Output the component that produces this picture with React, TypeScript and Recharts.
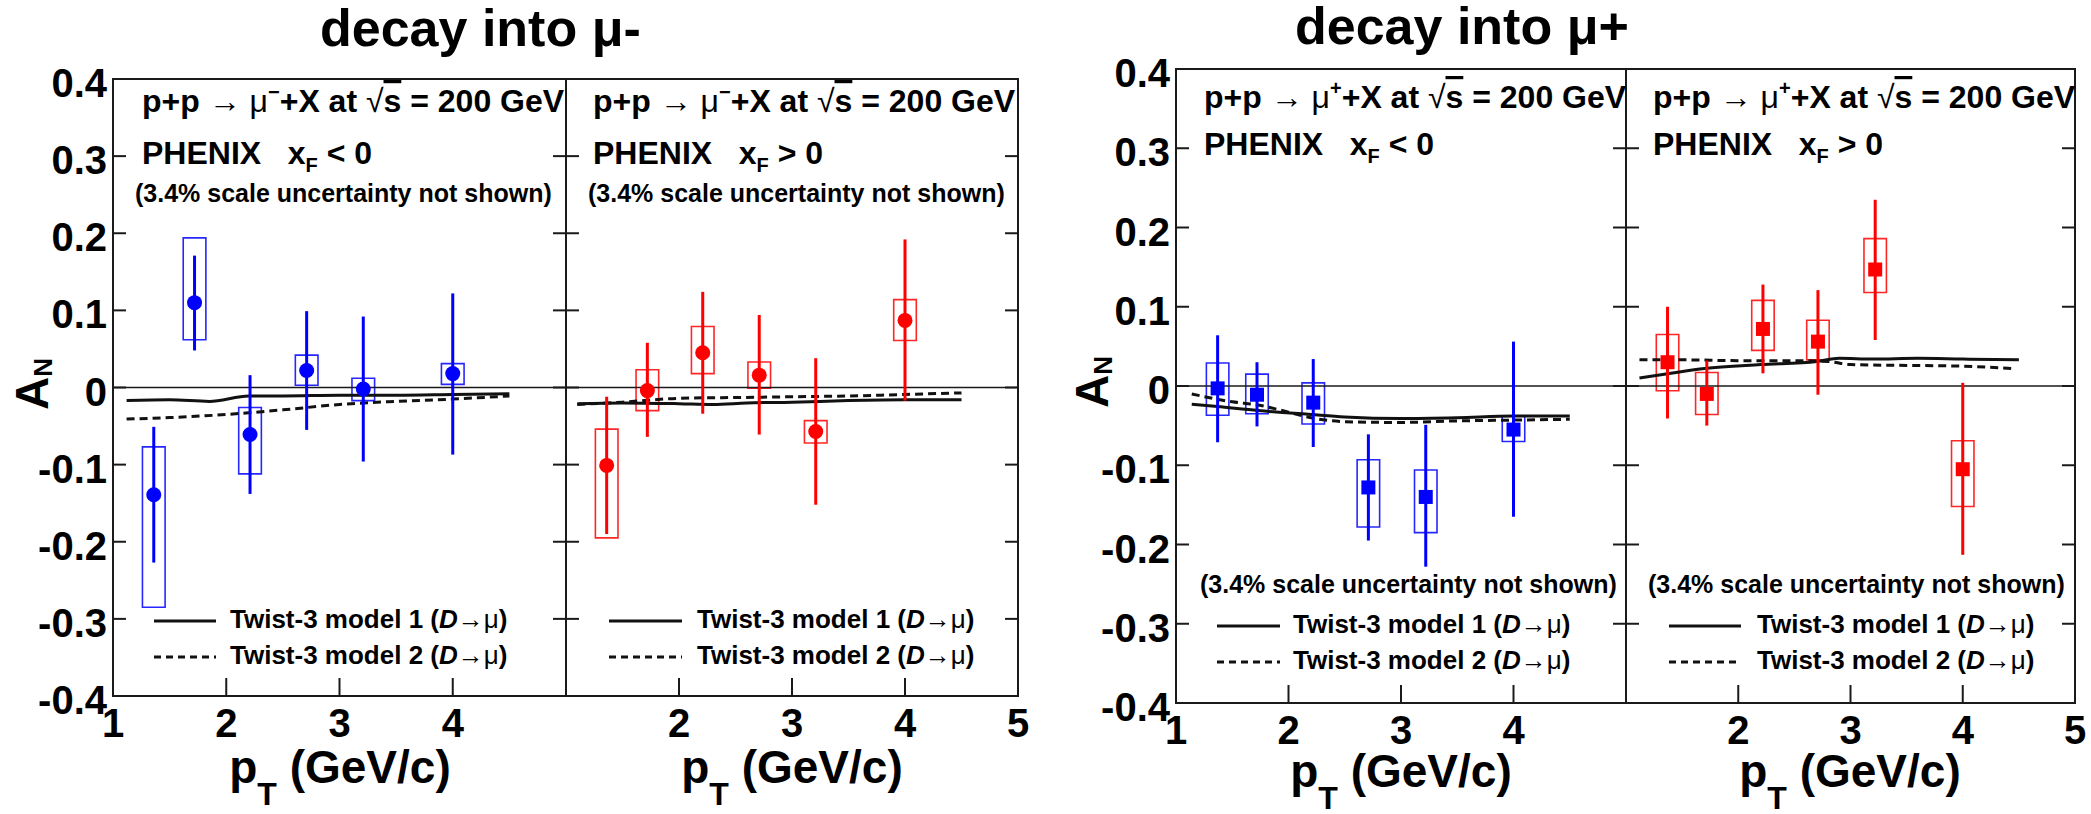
import React from "react";
import {
  ComposedChart,
  ErrorBar,
  Line,
  ReferenceArea,
  ReferenceLine,
  Scatter,
  XAxis,
  YAxis,
} from "recharts";

const FONT = "'Liberation Sans', Arial, Helvetica, sans-serif";
const BLUE = "#0000ff";
const RED = "#ff0000";
const INK = "#1a1a1a";

// pT bin centres (GeV/c)
const ptMinus = [1.36, 1.72, 2.21, 2.71, 3.21, 4.0];
const ptPlus = [1.37, 1.72, 2.22, 2.71, 3.22, 4.0];

// mu-, xF < 0
const anMinusBwd = [-0.139, 0.11, -0.061, 0.022, -0.002, 0.018];
const statHiMinusBwd = [-0.051, 0.171, 0.016, 0.099, 0.092, 0.122];
const statLoMinusBwd = [-0.227, 0.048, -0.138, -0.055, -0.096, -0.087];
const sysHiMinusBwd = [-0.077, 0.194, -0.026, 0.042, 0.012, 0.031];
const sysLoMinusBwd = [-0.285, 0.062, -0.112, 0.003, -0.017, 0.004];

// mu-, xF > 0
const anMinusFwd = [-0.101, -0.004, 0.045, 0.016, -0.057, 0.087];
const statHiMinusFwd = [-0.012, 0.058, 0.124, 0.094, 0.038, 0.192];
const statLoMinusFwd = [-0.19, -0.064, -0.034, -0.061, -0.152, -0.017];
const sysHiMinusFwd = [-0.054, 0.023, 0.079, 0.033, -0.043, 0.114];
const sysLoMinusFwd = [-0.195, -0.03, 0.018, -0.001, -0.072, 0.061];

// mu+, xF < 0
const anPlusBwd = [-0.003, -0.011, -0.021, -0.128, -0.14, -0.055];
const statHiPlusBwd = [0.064, 0.03, 0.034, -0.061, -0.049, 0.056];
const statLoPlusBwd = [-0.071, -0.051, -0.077, -0.195, -0.228, -0.165];
const sysHiPlusBwd = [0.029, 0.015, 0.004, -0.093, -0.106, -0.038];
const sysLoPlusBwd = [-0.037, -0.035, -0.048, -0.178, -0.185, -0.07];

// mu+, xF > 0
const anPlusFwd = [0.03, -0.01, 0.072, 0.056, 0.147, -0.105];
const statHiPlusFwd = [0.1, 0.032, 0.128, 0.121, 0.235, 0.004];
const statLoPlusFwd = [-0.041, -0.05, 0.016, -0.011, 0.058, -0.213];
const sysHiPlusFwd = [0.065, 0.017, 0.108, 0.083, 0.186, -0.069];
const sysLoPlusFwd = [-0.006, -0.036, 0.045, 0.033, 0.118, -0.152];

// twist-3 curves
const m1MinusBwdX = [1.12, 1.5, 1.85, 2.2, 2.5, 3.0, 3.5, 4.0, 4.5];
const m1MinusBwdY = [-0.017, -0.016, -0.018, -0.011, -0.011, -0.01, -0.01, -0.009, -0.008];
const m2MinusBwdX = [1.12, 1.5, 2.0, 2.5, 3.0, 3.5, 4.0, 4.5];
const m2MinusBwdY = [-0.041, -0.039, -0.035, -0.029, -0.022, -0.018, -0.015, -0.011];

const m1MinusFwdX = [1.1, 1.5, 2.0, 2.3, 2.6, 3.0, 3.5, 4.0, 4.5];
const m1MinusFwdY = [-0.021, -0.02, -0.021, -0.022, -0.02, -0.019, -0.017, -0.016, -0.016];
const m2MinusFwdX = [1.1, 1.5, 2.0, 2.5, 3.0, 3.5, 4.0, 4.5];
const m2MinusFwdY = [-0.022, -0.019, -0.014, -0.013, -0.012, -0.011, -0.009, -0.007];

const m1PlusBwdX = [1.14, 1.37, 1.73, 2.2, 2.5, 3.0, 3.5, 4.0, 4.5];
const m1PlusBwdY = [-0.023, -0.026, -0.031, -0.036, -0.039, -0.041, -0.04, -0.038, -0.038];
const m2PlusBwdX = [1.14, 1.5, 1.73, 2.0, 2.2, 2.5, 3.0, 3.5, 4.0, 4.5];
const m2PlusBwdY = [-0.01, -0.02, -0.024, -0.033, -0.04, -0.045, -0.046, -0.044, -0.043, -0.042];

const m1PlusFwdX = [1.12, 1.4, 1.7, 2.2, 2.7, 2.9, 3.2, 3.6, 4.0, 4.5];
const m1PlusFwdY = [0.01, 0.016, 0.022, 0.027, 0.031, 0.035, 0.034, 0.035, 0.034, 0.033];
const m2PlusFwdX = [1.12, 1.5, 2.0, 2.5, 2.8, 3.0, 3.5, 4.0, 4.45];
const m2PlusFwdY = [0.033, 0.033, 0.032, 0.032, 0.031, 0.027, 0.026, 0.025, 0.022];

const yTicks = [-0.4, -0.3, -0.2, -0.1, 0, 0.1, 0.2, 0.3, 0.4];
const xTicksLeft = [1, 2, 3, 4];
const xTicksRight = [2, 3, 4, 5];

const BOX_HALF = 0.1; // half width of systematic boxes, in pT units

const points = (x: number[], v: number[], hi: number[], lo: number[], sHi: number[], sLo: number[]) =>
  x.map((px, i) => ({ x: px, y: v[i], err: [v[i] - lo[i], hi[i] - v[i]], sysHi: sHi[i], sysLo: sLo[i] }));

const curve = (x: number[], y: number[]) => x.map((px, i) => ({ x: px, y: y[i] }));

const fmt = (v: number) => (v === 0 ? "0" : v.toFixed(1));

function XTick(props: any) {
  const { x, y, payload } = props;
  const v = payload.value;
  const inner = v > 1 && v < 5;
  return (
    <g>
      {inner && <line x1={x} x2={x} y1={y} y2={y - 18} stroke={INK} strokeWidth={2} />}
      <text x={x} y={y + 41} textAnchor="middle" fontSize={40} fontWeight="bold" fontFamily={FONT} fill="#000">
        {v}
      </text>
    </g>
  );
}

function YTick(props: any) {
  const { x, y, payload, plotW, showLabel } = props;
  const v = payload.value;
  const edge = Math.abs(Math.abs(v) - 0.4) < 1e-6;
  return (
    <g>
      {!edge && <line x1={x} x2={x + 13} y1={y} y2={y} stroke={INK} strokeWidth={2} />}
      {!edge && <line x1={x + plotW - 13} x2={x + plotW} y1={y} y2={y} stroke={INK} strokeWidth={2} />}
      {showLabel && (
        <text x={x - 6} y={y + 18} textAnchor="end" fontSize={40} fontWeight="bold" fontFamily={FONT} fill="#000">
          {fmt(v)}
        </text>
      )}
    </g>
  );
}

function Panel({ left, top, w, h, rows, m1, m2, color, square, xTicks, showY }: any) {
  const yw = 90, mL = 10, mT = 20, mR = 20, xh = 50, mB = 10;
  const marker = (p: any) =>
    square ? (
      <rect x={p.cx - 7} y={p.cy - 7} width={14} height={14} fill={color} />
    ) : (
      <circle cx={p.cx} cy={p.cy} r={7.5} fill={color} />
    );
  return (
    <div style={{ position: "absolute", left: left - mL - yw, top: top - mT }}>
      <ComposedChart
        width={w + mL + yw + mR}
        height={h + mT + xh + mB}
        margin={{ top: mT, right: mR, bottom: mB, left: mL }}
      >
        <XAxis
          type="number"
          dataKey="x"
          domain={[1, 5]}
          ticks={xTicks}
          interval={0}
          height={xh}
          tickSize={0}
          tickMargin={0}
          axisLine={false}
          tickLine={false}
          allowDataOverflow
          tick={(p: any) => <XTick {...p} />}
        />
        <YAxis
          type="number"
          dataKey="y"
          domain={[-0.4, 0.4]}
          ticks={yTicks}
          interval={0}
          width={yw}
          tickSize={0}
          tickMargin={0}
          axisLine={false}
          tickLine={false}
          allowDataOverflow
          tick={(p: any) => <YTick {...p} plotW={w} showLabel={showY} />}
        />
        <ReferenceArea x1={1} x2={5} y1={-0.4} y2={0.4} fill="none" stroke={INK} strokeWidth={2} ifOverflow="visible" />
        <ReferenceLine y={0} stroke={INK} strokeWidth={1.5} />
        {rows.map((r: any, i: number) => (
          <ReferenceArea
            key={i}
            x1={r.x - BOX_HALF}
            x2={r.x + BOX_HALF}
            y1={r.sysLo}
            y2={r.sysHi}
            fill="none"
            stroke={color}
            strokeWidth={1.6}
            strokeOpacity={0.85}
            ifOverflow="visible"
          />
        ))}
        <Line data={m1} dataKey="y" type="monotone" stroke="#111" strokeWidth={3} dot={false} isAnimationActive={false} />
        <Line
          data={m2}
          dataKey="y"
          type="monotone"
          stroke="#111"
          strokeWidth={3}
          strokeDasharray="8 5"
          dot={false}
          isAnimationActive={false}
        />
        <Scatter data={rows} dataKey="y" fill={color} shape={marker} isAnimationActive={false}>
          <ErrorBar dataKey="err" direction="y" width={0} strokeWidth={3} stroke={color} />
        </Scatter>
      </ComposedChart>
    </div>
  );
}

function ProcLine({ x, y, sign }: { x: number; y: number; sign: string }) {
  return (
    <text x={x} y={y} fontSize={32} fontWeight="bold">
      {"p+p "}
      <tspan fontWeight="normal">{"→ μ"}</tspan>
      <tspan fontSize={20} dy={-13}>
        {sign}
      </tspan>
      <tspan dy={13}>{"+X at "}</tspan>
      <tspan fontWeight="normal">√</tspan>
      <tspan style={{ textDecoration: "overline" }}>s</tspan>
      {" = 200 GeV"}
    </text>
  );
}

function Phenix({ x, y, rel }: { x: number; y: number; rel: string }) {
  return (
    <text x={x} y={y} fontSize={32} fontWeight="bold" style={{ whiteSpace: "pre" }}>
      {"PHENIX   x"}
      <tspan fontSize={20} dy={8}>
        F
      </tspan>
      <tspan dy={-8}>{` ${rel} 0`}</tspan>
    </text>
  );
}

function Scale({ x, y }: { x: number; y: number }) {
  return (
    <text x={x} y={y} fontSize={25} fontWeight="bold">
      (3.4% scale uncertainty not shown)
    </text>
  );
}

function ModelLegend({ x0, x1, tx, y }: { x0: number; x1: number; tx: number; y: number }) {
  return (
    <g>
      <line x1={x0} x2={x1} y1={y - 7} y2={y - 7} stroke="#111" strokeWidth={3} />
      <line x1={x0} x2={x1} y1={y + 29} y2={y + 29} stroke="#111" strokeWidth={3} strokeDasharray="7 5" />
      {[1, 2].map((n) => (
        <text key={n} x={tx} y={y + (n - 1) * 36} fontSize={26} fontWeight="bold">
          {`Twist-3 model ${n} (`}
          <tspan fontStyle="italic">D</tspan>
          <tspan fontWeight="normal">→μ</tspan>)
        </text>
      ))}
    </g>
  );
}

function AxisTitleX({ cx, y }: { cx: number; y: number }) {
  return (
    <text x={cx} y={y} textAnchor="middle" fontSize={46} fontWeight="bold">
      p
      <tspan fontSize={32} dy={22}>
        T
      </tspan>
      <tspan dy={-22}>{" (GeV/c)"}</tspan>
    </text>
  );
}

function AxisTitleY({ x, y }: { x: number; y: number }) {
  return (
    <text x={x} y={y} transform={`rotate(-90 ${x} ${y})`} fontSize={46} fontWeight="bold">
      A
      <tspan fontSize={26} dy={4}>
        N
      </tspan>
    </text>
  );
}

export default function App() {
  const rowsA = points(ptMinus, anMinusBwd, statHiMinusBwd, statLoMinusBwd, sysHiMinusBwd, sysLoMinusBwd);
  const rowsB = points(ptMinus, anMinusFwd, statHiMinusFwd, statLoMinusFwd, sysHiMinusFwd, sysLoMinusFwd);
  const rowsC = points(ptPlus, anPlusBwd, statHiPlusBwd, statLoPlusBwd, sysHiPlusBwd, sysLoPlusBwd);
  const rowsD = points(ptPlus, anPlusFwd, statHiPlusFwd, statLoPlusFwd, sysHiPlusFwd, sysLoPlusFwd);

  return (
    <div style={{ position: "absolute", left: 0, top: 0, width: 2091, height: 814, background: "#fff", overflow: "hidden" }}>
      <Panel left={113} top={79} w={453} h={617} rows={rowsA} m1={curve(m1MinusBwdX, m1MinusBwdY)} m2={curve(m2MinusBwdX, m2MinusBwdY)} color={BLUE} square={false} xTicks={xTicksLeft} showY />
      <Panel left={566} top={79} w={452} h={617} rows={rowsB} m1={curve(m1MinusFwdX, m1MinusFwdY)} m2={curve(m2MinusFwdX, m2MinusFwdY)} color={RED} square={false} xTicks={xTicksRight} showY={false} />
      <Panel left={1176} top={69} w={450} h={634} rows={rowsC} m1={curve(m1PlusBwdX, m1PlusBwdY)} m2={curve(m2PlusBwdX, m2PlusBwdY)} color={BLUE} square xTicks={xTicksLeft} showY />
      <Panel left={1626} top={69} w={449} h={634} rows={rowsD} m1={curve(m1PlusFwdX, m1PlusFwdY)} m2={curve(m2PlusFwdX, m2PlusFwdY)} color={RED} square xTicks={xTicksRight} showY={false} />

      <svg width={2091} height={814} style={{ position: "absolute", left: 0, top: 0, pointerEvents: "none" }} fontFamily={FONT} fill="#000">
        <text x={320} y={46} fontSize={52} fontWeight="bold">decay into μ-</text>
        <text x={1295} y={44} fontSize={52} fontWeight="bold">decay into μ+</text>

        <AxisTitleY x={48} y={410} />
        <AxisTitleY x={1108} y={408} />
        <AxisTitleX cx={340} y={783} />
        <AxisTitleX cx={792} y={783} />
        <AxisTitleX cx={1401} y={787} />
        <AxisTitleX cx={1850} y={787} />

        <ProcLine x={142} y={112} sign="−" />
        <Phenix x={142} y={164} rel="<" />
        <Scale x={135} y={202} />
        <ProcLine x={593} y={112} sign="−" />
        <Phenix x={593} y={164} rel=">" />
        <Scale x={588} y={202} />

        <ProcLine x={1204} y={108} sign="+" />
        <Phenix x={1204} y={155} rel="<" />
        <Scale x={1200} y={593} />
        <ProcLine x={1653} y={108} sign="+" />
        <Phenix x={1653} y={155} rel=">" />
        <Scale x={1648} y={593} />

        <ModelLegend x0={154} x1={216} tx={230} y={628} />
        <ModelLegend x0={609} x1={682} tx={697} y={628} />
        <ModelLegend x0={1217} x1={1280} tx={1293} y={633} />
        <ModelLegend x0={1669} x1={1741} tx={1757} y={633} />
      </svg>
    </div>
  );
}
